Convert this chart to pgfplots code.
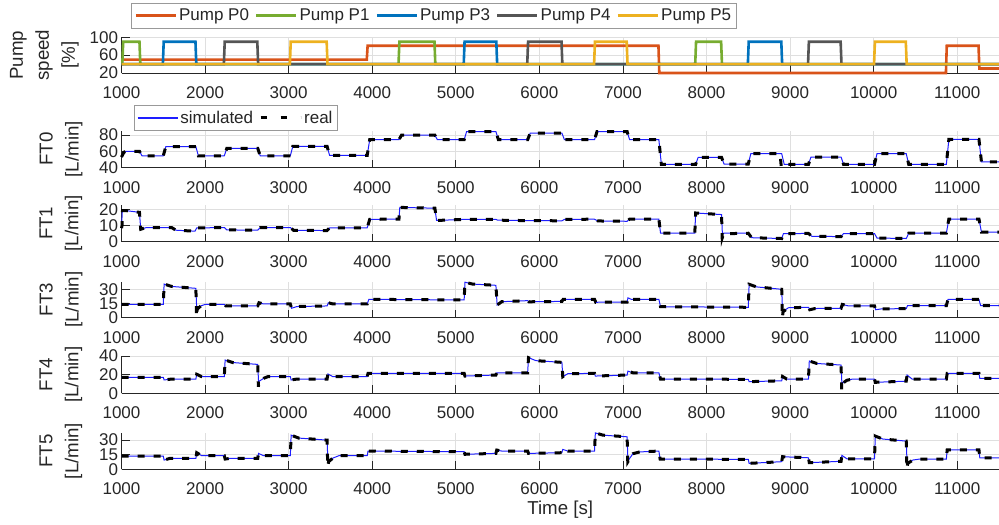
\documentclass[border=0pt]{standalone}
\usepackage{fontspec}
\setmainfont{Liberation Sans}
\usepackage{pgfplots}
\pgfplotsset{compat=1.18}

\definecolor{txt}{RGB}{38,38,38}
\definecolor{gridc}{RGB}{223,223,223}
\definecolor{cP0}{RGB}{217,83,25}
\definecolor{cP1}{RGB}{119,172,48}
\definecolor{cP3}{RGB}{0,114,189}
\definecolor{cP4}{RGB}{85,85,85}
\definecolor{cP5}{RGB}{237,177,32}
\definecolor{simc}{RGB}{30,30,255}

\newcommand{\fs}{\fontsize{17bp}{20bp}\selectfont\color{txt}}
\newcommand{\fl}{\fontsize{18.7bp}{26bp}\selectfont\color{txt}}

\pgfplotsset{
  panel/.style={
    scale only axis, width=877.5bp,
    xmin=1000, xmax=11500,
    xtick={1000,2000,...,11000},
    axis x line=bottom, axis y line=left,
    axis line style={-, draw=txt, line width=0.6bp},
    tick align=inside, major tick length=8bp,
    tick style={draw=txt, line width=0.6bp},
    grid=major, major grid style={draw=gridc, line width=0.6bp},
    ticklabel style={font=\fs},
    xticklabel style={yshift=-10bp},
    /pgf/number format/assume math mode=true,
    /pgf/number format/set thousands separator={},
    scaled ticks=false,
    every axis y label/.style={at={(axis description cs:-0.069,0.5)}, anchor=center,
      rotate=90, font=\fl, align=center},
    every axis x label/.style={at={(axis description cs:0.5,-1.093)}, anchor=center, font=\fl},
    clip=false,
    legend image code/.code={\draw[##1] (0bp,0bp) -- (40bp,0bp);},
    legend style={anchor=north west, draw=black!40, line width=0.6bp, fill=white,
      font=\fs, inner xsep=3bp, inner ysep=3.6bp,
      nodes={inner sep=2bp, text depth=0.15em},
      /tikz/every even column/.append style={column sep=4bp}},
  },
  sim/.style={draw=simc, line width=1bp},
  real/.style={draw=black, line width=3bp, dash pattern=on 7bp off 9bp},
  pump/.style={line width=2.6bp},
}

\begin{document}
\begin{tikzpicture}
\useasboundingbox (0bp,0bp) rectangle (999bp,-525bp);

% pump speeds
\begin{axis}[panel, at={(121.5bp,-37.3bp)}, anchor=north west, height=35.7bp,
  ymin=20, ymax=100, ytick={20,60,100},
  ylabel={Pump\\speed\\{[\%]}},
  ylabel style={at={(axis description cs:-0.0878,0.5)}},
  legend columns=5,
  legend style={at={(0.01106,1.955)}},
]
\addplot[pump, cP0] coordinates {(1000,50)(3935,50)(3945,81)(7425,81)(7435,20)(10865,20)(10875,81)(11255,81)(11265,30)(11500,30)};
\addplot[pump, cP1] coordinates {(1000,40)(1010,40)(1020,90)(1215,90)(1225,40)(4315,40)(4325,90)(4745,90)(4755,40)(7865,40)(7875,90)(8175,90)(8185,40)(11500,40)};
\addplot[pump, cP3] coordinates {(1000,40)(1495,40)(1505,90)(1885,90)(1895,40)(5095,40)(5105,90)(5485,90)(5495,40)(8495,40)(8505,90)(8895,90)(8905,40)(11500,40)};
\addplot[pump, cP4] coordinates {(1000,40)(2225,40)(2235,90)(2625,90)(2635,40)(5855,40)(5865,90)(6265,90)(6275,40)(9215,40)(9225,90)(9605,90)(9615,40)(11500,40)};
\addplot[pump, cP5] coordinates {(1000,40)(3015,40)(3025,90)(3455,90)(3465,40)(6655,40)(6665,90)(7045,90)(7055,40)(10005,40)(10015,90)(10385,90)(10395,40)(11500,40)};
\legend{Pump P0,Pump P1,Pump P3,Pump P4,Pump P5}
\end{axis}

% FT0
\begin{axis}[panel, at={(121.5bp,-130.7bp)}, anchor=north west, height=37bp,
  ymin=40, ymax=85, ytick={40,60,80},
  ylabel={FT0\\{[L/min]}},
  legend columns=2,
  legend style={at={(0.01368,1.695)}},
]
\addlegendimage{draw=simc, line width=1.6bp}
\addlegendimage{draw=black, line width=3bp, dash pattern=on 6bp off 14bp}
\addplot[sim] coordinates {(1000,53)(1030,59)(1060,60)(1215,60)(1245,54.5)(1500,54.5)(1530,65.5)(1890,65.5)(1920,54.5)(2230,54.5)(2260,63.5)(2630,63.5)(2660,54.5)(3020,54.5)(3050,66)(3460,66)(3490,55)(3940,55)(3970,74)(4320,74)(4350,79.5)(4750,79.5)(4780,74)(5100,74)(5130,84)(5480,84)(5510,74)(5860,74)(5890,82)(6270,82)(6300,74)(6660,74)(6690,84)(7050,84)(7080,74)(7430,74)(7460,44)(7870,44)(7900,52.5)(8180,52.5)(8210,44.5)(8500,44.5)(8530,57)(8900,57)(8930,44)(9220,44)(9250,53)(9610,53)(9640,44)(10010,44)(10040,57)(10390,57)(10420,44)(10870,44)(10900,74.5)(11260,74.5)(11290,47)(11500,47)};
\addplot[real] coordinates {(1000,53)(1030,59)(1060,60)(1215,60)(1245,54.5)(1500,54.5)(1530,65.5)(1890,65.5)(1920,54.5)(2230,54.5)(2260,63.5)(2630,63.5)(2660,54.5)(3020,54.5)(3050,66)(3460,66)(3490,55)(3940,55)(3970,74)(4320,74)(4350,79.5)(4750,79.5)(4780,74)(5100,74)(5130,84)(5480,84)(5510,74)(5860,74)(5890,82)(6270,82)(6300,74)(6660,74)(6690,84)(7050,84)(7080,74)(7430,74)(7460,44)(7870,44)(7900,52.5)(8180,52.5)(8210,44.5)(8500,44.5)(8530,57)(8880,57)(8895,41)(8930,44)(9220,44)(9250,53)(9610,53)(9640,44)(10010,44)(10040,57)(10390,57)(10420,44)(10870,44)(10900,74.5)(11260,74.5)(11290,47)(11500,47)};
\legend{simulated,real}
\end{axis}

% FT1
\begin{axis}[panel, at={(121.5bp,-205bp)}, anchor=north west, height=36.7bp,
  ymin=0, ymax=23, ytick={0,10,20},
  ylabel={FT1\\{[L/min]}},
]
\addplot[sim] coordinates {(1000,8.5)(1010,19.5)(1050,19.5)(1215,18.4)(1230,7.8)(1300,8.9)(1600,8.9)(1650,7.2)(1880,6.6)(1900,8.6)(2230,8.9)(2260,7.4)(2630,7.2)(2660,8.8)(3020,8.9)(3060,7.1)(3460,7.0)(3490,8.6)(3940,8.7)(3970,14)(4320,14.2)(4330,21.5)(4750,21)(4770,13.3)(5100,14)(5480,14)(5500,13.5)(5860,13.2)(5890,13.2)(6270,13.1)(6300,14)(6660,14.1)(6700,13)(7050,12.8)(7080,14.2)(7430,14.2)(7450,5.3)(7860,5.3)(7870,18)(8180,17)(8190,5)(8210,5.3)(8500,5.3)(8540,2.5)(8900,2)(8920,5)(9220,5.2)(9260,3.4)(9610,3.2)(9640,5.1)(10010,5.1)(10040,2.3)(10390,2.0)(10420,5.3)(10870,5.3)(10900,14.2)(11260,14.2)(11290,6)(11500,6)};
\addplot[real] coordinates {(1000,8.5)(1006,10)(1012,19.5)(1050,19.5)(1215,18.4)(1230,7.8)(1300,8.9)(1600,8.9)(1650,7.2)(1880,6.6)(1900,8.6)(2230,8.9)(2260,7.4)(2630,7.2)(2660,8.8)(3020,8.9)(3060,7.1)(3460,7.0)(3490,8.6)(3940,8.7)(3970,14)(4320,14.2)(4330,21.5)(4750,21)(4770,13.3)(5100,14)(5480,14)(5500,13.5)(5860,13.2)(5890,13.2)(6270,13.1)(6300,14)(6660,14.1)(6700,13)(7050,12.8)(7080,14.2)(7430,14.2)(7450,5.3)(7860,5.3)(7870,18)(8180,17)(8188,2.3)(8205,5)(8500,5.3)(8540,2.5)(8900,2)(8920,5)(9220,5.2)(9260,3.4)(9610,3.2)(9640,5.1)(10010,5.1)(10040,2.3)(10390,2.0)(10420,5.3)(10870,5.3)(10900,14.2)(11260,14.2)(11290,6)(11500,6)};
\end{axis}

% FT3
\begin{axis}[panel, at={(121.5bp,-281.7bp)}, anchor=north west, height=36bp,
  ymin=0, ymax=38, ytick={0,15,30},
  ylabel={FT3\\{[L/min]}},
]
\addplot[sim] coordinates {(1000,14.1)(1500,14.1)(1510,35.5)(1600,33)(1890,31)(1900,9)(1950,12.5)(2000,14)(2230,14)(2250,12.4)(2630,12.4)(2645,15.8)(2700,14.5)(3020,14.5)(3035,10)(3100,11.8)(3460,12.4)(3475,15.8)(3530,14.5)(3940,14.5)(3960,19.4)(5100,18.7)(5110,37.5)(5200,35.5)(5480,34.2)(5495,13.4)(5550,16.9)(5860,18)(5875,16.8)(6270,17.2)(6285,19.4)(6660,19.4)(6675,16.3)(7050,16.5)(7060,21)(7100,19.4)(7430,19.4)(7450,11.6)(8500,11)(8510,35.2)(8600,32.5)(8900,30)(8910,6.3)(8980,10.5)(9220,11)(9235,8.4)(9300,9.7)(9610,9.9)(9625,14)(9700,12.4)(10010,12.4)(10025,8.4)(10100,9.4)(10390,9.5)(10405,12.7)(10870,12.7)(10890,19.4)(11260,19.4)(11280,12.7)(11500,12.7)};
\addplot[real] coordinates {(1000,14.1)(1500,14.1)(1510,35.5)(1600,33)(1890,31)(1898,1)(1906,9)(1950,12.5)(2000,14)(2230,14)(2250,12.4)(2630,12.4)(2645,15.8)(2700,14.5)(3020,14.5)(3035,10)(3100,11.8)(3460,12.4)(3475,15.8)(3530,14.5)(3940,14.5)(3960,19.4)(5100,18.7)(5110,37.5)(5200,35.5)(5480,34.2)(5495,13.4)(5550,16.9)(5860,18)(5875,16.8)(6270,17.2)(6285,19.4)(6660,19.4)(6675,16.3)(7050,16.5)(7060,21)(7100,19.4)(7430,19.4)(7450,11.6)(8500,11)(8510,35.2)(8600,32.5)(8900,30)(8908,0)(8916,6.3)(8980,10.5)(9220,11)(9235,8.4)(9300,9.7)(9610,9.9)(9625,14)(9700,12.4)(10010,12.4)(10025,8.4)(10100,9.4)(10390,9.5)(10405,12.7)(10870,12.7)(10890,19.4)(11260,19.4)(11280,12.7)(11500,12.7)};
\end{axis}

% FT4
\begin{axis}[panel, at={(121.5bp,-356bp)}, anchor=north west, height=37.3bp,
  ymin=0, ymax=40, ytick={0,20,40},
  ylabel={FT4\\{[L/min]}},
]
\addplot[sim] coordinates {(1000,17.1)(1500,17.1)(1510,14.3)(1600,15.3)(1890,15.3)(1900,20.4)(1960,17.8)(2230,17.8)(2240,35.7)(2330,33)(2630,31)(2640,12.5)(2700,16)(2750,17.8)(3020,17.8)(3030,14.3)(3100,15.3)(3460,15.3)(3470,20.7)(3530,17.8)(3940,17.8)(3950,21.4)(5100,21.4)(5110,18.5)(5480,19.6)(5490,22)(5860,22)(5870,38.2)(5960,35)(6270,33.2)(6280,17.8)(6340,21)(6660,21.4)(6670,18.5)(7050,19.6)(7060,23.8)(7120,22)(7430,22)(7450,15.3)(8500,15)(8510,12.5)(8900,13.4)(8910,18)(8960,15.3)(9220,15.3)(9230,34.6)(9320,32)(9610,30.3)(9620,10.7)(9680,14)(9750,15.3)(10010,15.3)(10020,11.8)(10390,13)(10400,19.6)(10460,15.3)(10870,15.3)(10880,21.4)(11260,21.4)(11270,16)(11500,16)};
\addplot[real] coordinates {(1000,17.1)(1500,17.1)(1510,14.3)(1600,15.3)(1890,15.3)(1900,20.4)(1960,17.8)(2230,17.8)(2240,35.7)(2330,33)(2630,31)(2638,7)(2648,12.5)(2700,16)(2750,17.8)(3020,17.8)(3030,14.3)(3100,15.3)(3460,15.3)(3470,20.7)(3530,17.8)(3940,17.8)(3950,21.4)(5100,21.4)(5110,18.5)(5480,19.6)(5490,22)(5860,22)(5870,38.2)(5960,35)(6270,33.2)(6280,17.8)(6340,21)(6660,21.4)(6670,18.5)(7050,19.6)(7060,23.8)(7120,22)(7430,22)(7450,15.3)(8500,15)(8510,12.5)(8900,13.4)(8910,18)(8960,15.3)(9220,15.3)(9230,34.6)(9320,32)(9610,30.3)(9618,3.5)(9628,10.7)(9680,14)(9750,15.3)(10010,15.3)(10020,11.8)(10390,13)(10400,19.6)(10460,15.3)(10870,15.3)(10880,21.4)(11260,21.4)(11270,16)(11500,16)};
\end{axis}

% FT5
\begin{axis}[panel, at={(121.5bp,-432.7bp)}, anchor=north west, height=36.6bp,
  ymin=0, ymax=37.5, ytick={0,15,30},
  ylabel={FT5\\{[L/min]}},
  xlabel={Time [s]},
]
\addplot[sim] coordinates {(1000,13.6)(1500,13.6)(1510,9.5)(1580,11.2)(1890,11.2)(1900,17)(1960,13.9)(2230,13.9)(2240,10.5)(2300,11.2)(2630,11.2)(2640,16.3)(2700,13.9)(3020,13.9)(3030,35)(3120,32)(3460,29.9)(3470,7.8)(3530,11.5)(3600,13.9)(3940,13.9)(3950,18.7)(5100,18)(5110,15.4)(5480,16.3)(5490,19.7)(5550,18.7)(5860,18.7)(5870,16.3)(6270,17)(6280,20.4)(6340,18.7)(6660,18.7)(6670,37.3)(6760,35)(7050,33.3)(7060,8.8)(7120,16)(7200,17.8)(7430,18.7)(7445,10.5)(8500,10.2)(8510,6.1)(8900,7.8)(8910,12.9)(9220,11.8)(9230,6.8)(9610,8.2)(9620,14.2)(9680,10.8)(10010,10.8)(10020,34)(10110,31)(10390,28.9)(10400,6.1)(10470,9.5)(10550,10.5)(10870,10.5)(10880,20)(11260,20)(11270,11.8)(11500,11.8)};
\addplot[real] coordinates {(1000,13.6)(1500,13.6)(1510,9.5)(1580,11.2)(1890,11.2)(1900,17)(1960,13.9)(2230,13.9)(2240,10.5)(2300,11.2)(2630,11.2)(2640,16.3)(2700,13.9)(3020,13.9)(3030,35)(3120,32)(3460,29.9)(3468,2.7)(3478,7.8)(3530,11.5)(3600,13.9)(3940,13.9)(3950,18.7)(5100,18)(5110,15.4)(5480,16.3)(5490,19.7)(5550,18.7)(5860,18.7)(5870,16.3)(6270,17)(6280,20.4)(6340,18.7)(6660,18.7)(6670,37.3)(6760,35)(7050,33.3)(7058,7.5)(7068,8.8)(7120,16)(7200,17.8)(7430,18.7)(7445,10.5)(8500,10.2)(8510,6.1)(8900,7.8)(8910,12.9)(9220,11.8)(9230,6.8)(9610,8.2)(9620,14.2)(9680,10.8)(10010,10.8)(10020,34)(10110,31)(10390,28.9)(10398,0.3)(10408,6.1)(10470,9.5)(10550,10.5)(10870,10.5)(10880,20)(11260,20)(11270,11.8)(11500,11.8)};
\end{axis}
\end{tikzpicture}
\end{document}
